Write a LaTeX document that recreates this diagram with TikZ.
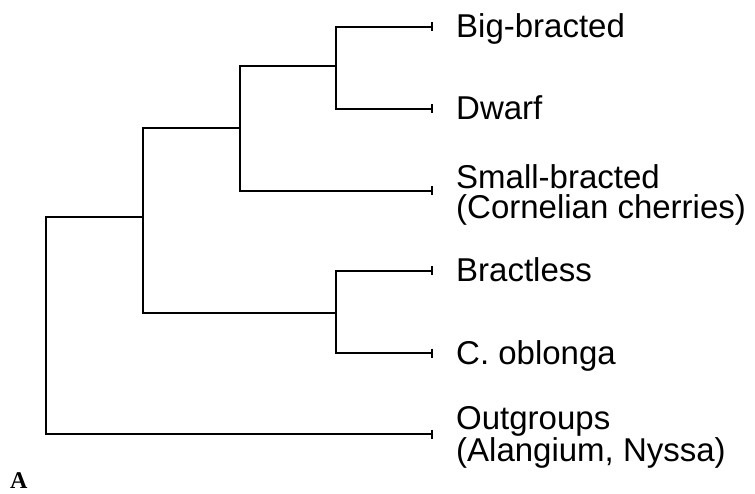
\documentclass[tikz,border=0pt]{standalone}
\usepackage{fontspec}
\setmainfont{Liberation Sans}
\newfontfamily\serifbold{Liberation Serif}
\usetikzlibrary{arrows.meta}
\begin{document}
\begin{tikzpicture}[x=1pt,y=-1pt,
  branch/.style={line width=1.6pt,line cap=rect},
  tip/.style={line width=1.6pt,-{Bar[width=9pt,line width=1.6pt]}},
  taxon/.style={anchor=base west,inner sep=0pt,align=left,
    font=\fontsize{33}{30}\selectfont}]
\useasboundingbox (0,0) rectangle (755,494);

% internal nodes of the tree
\coordinate (root) at (46,217);
\coordinate (core) at (143,128);
\coordinate (bract) at (240,66);
\coordinate (bigdw) at (336,27);
\coordinate (bigdwlow) at (336,109);
\coordinate (brob) at (336,271);
\coordinate (broblow) at (336,353);
\coordinate (brobmid) at (336,313);

% leaf tips
\coordinate (tBig) at (433,27);
\coordinate (tDwarf) at (433,109);
\coordinate (tSmall) at (433,191);
\coordinate (tBractless) at (433,271);
\coordinate (tObl) at (433,353);
\coordinate (tOut) at (433,434);

% taxon labels (base anchor of a two-line label is its last baseline)
\node[taxon] (lBig) at (456,38) {Big-bracted};
\node[taxon] (lDwarf) at (456,120) {Dwarf};
\node[taxon] (lSmall) at (456,219) {Small-bracted\\(Cornelian cherries)};
\node[taxon] (lBractless) at (456,282) {Bractless};
\node[taxon] (lObl) at (456,364) {C. oblonga};
\node[taxon] (lOut) at (456,461) {Outgroups\\(Alangium, Nyssa)};
\node[anchor=base west,inner sep=0pt,font=\serifbold\bfseries\fontsize{24}{24}\selectfont] (panel) at (10,488) {A};

% cladogram branches
\draw[branch] (root) -- (core |- root) -- (core) -- (core -| bract) -- (bract);
\draw[branch] (bract) -- (bigdw |- bract);
\draw[branch] (bigdw) -- (bigdwlow);
\draw[branch] (core) -- (core |- brobmid) -- (brobmid);
\draw[branch] (brob) -- (broblow);
\draw[branch] (bract) -- (bract |- tSmall);
\draw[branch] (root) -- (root |- tOut);

% terminal branches
\draw[tip] (bigdw) -- (tBig);
\draw[tip] (bigdwlow) -- (tDwarf);
\draw[tip] (bract |- tSmall) -- (tSmall);
\draw[tip] (brob) -- (tBractless);
\draw[tip] (broblow) -- (tObl);
\draw[tip] (root |- tOut) -- (tOut);
\end{tikzpicture}
\end{document}
